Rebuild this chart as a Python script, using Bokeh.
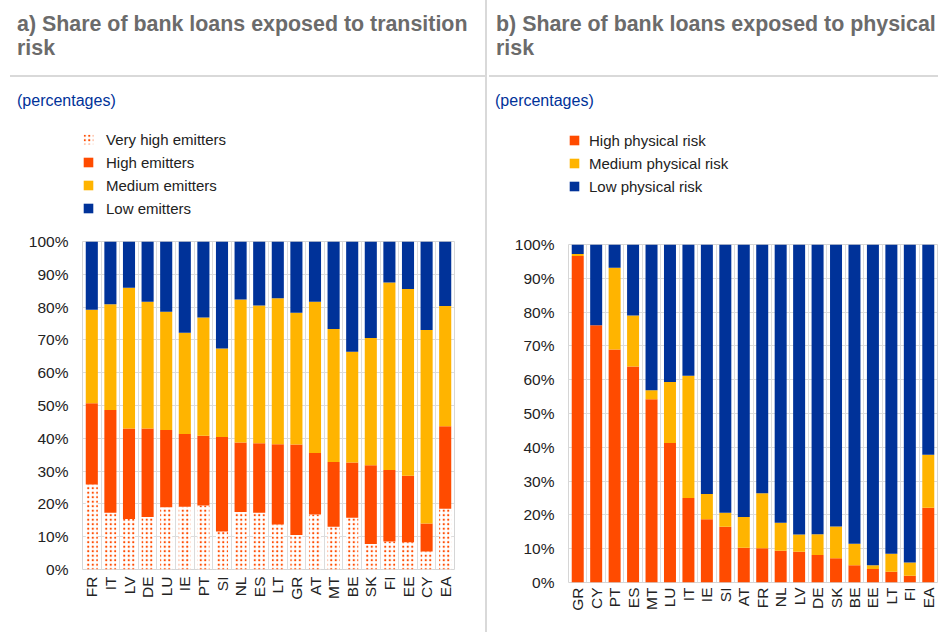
import math
from bokeh.plotting import figure
from bokeh.models import Div, Grid, FixedTicker, PrintfTickFormatter, Range1d, Legend, LegendItem, FactorRange
from bokeh.layouts import row, column
from bokeh.embed import file_html
from bokeh.resources import INLINE

# ---------------- data ----------------
trans_countries = ["FR", "IT", "LV", "DE", "LU", "IE", "PT", "SI", "NL", "ES",
                   "LT", "GR", "AT", "MT", "BE", "SK", "FI", "EE", "CY", "EA"]
very_high_emitters = [25.9, 17.3, 15.4, 16.0, 19.0, 19.1, 19.5, 11.6, 17.5, 17.3,
                      13.7, 10.5, 16.8, 13.0, 15.8, 7.8, 8.5, 8.3, 5.5, 18.5]
high_emitters = [24.8, 31.3, 27.6, 27.0, 23.5, 22.2, 21.3, 28.8, 21.2, 21.2,
                 24.5, 27.6, 18.7, 19.8, 16.8, 24.0, 21.8, 20.3, 8.5, 25.2]
medium_emitters = [28.5, 32.3, 42.9, 38.6, 36.1, 30.9, 36.0, 27.0, 43.6, 42.0,
                   44.5, 40.2, 46.1, 40.5, 33.8, 38.8, 57.2, 56.9, 59.0, 36.6]
low_emitters = [20.8, 19.1, 14.1, 18.4, 21.4, 27.8, 23.2, 32.6, 17.7, 19.5,
                17.3, 21.7, 18.4, 26.7, 33.6, 29.4, 12.5, 14.5, 27.0, 19.7]

phys_countries = ["GR", "CY", "PT", "ES", "MT", "LU", "IT", "IE", "SI", "AT",
                  "FR", "NL", "LV", "DE", "SK", "BE", "EE", "LT", "FI", "EA"]
high_physical = [96.6, 76.1, 68.9, 63.9, 54.2, 41.3, 25.0, 18.7, 16.5, 10.3,
                 10.1, 9.4, 9.1, 8.1, 7.2, 5.1, 4.0, 3.2, 2.0, 22.1]
medium_physical = [0.6, 0.0, 24.2, 15.1, 2.7, 18.0, 36.2, 7.5, 4.1, 9.1,
                   16.3, 8.3, 5.1, 6.2, 9.4, 6.4, 1.1, 5.3, 3.9, 15.7]
low_physical = [2.8, 23.9, 6.9, 21.0, 43.1, 40.7, 38.8, 73.8, 79.4, 80.6,
                73.6, 82.3, 85.8, 85.7, 83.4, 88.5, 94.9, 91.5, 94.1, 62.2]

trans_labels = ["Very high emitters", "High emitters", "Medium emitters", "Low emitters"]
phys_labels = ["High physical risk", "Medium physical risk", "Low physical risk"]
y_ticks = [0, 10, 20, 30, 40, 50, 60, 70, 80, 90, 100]

# ---------------- style ----------------
FONT = "Liberation Sans"
ORANGE = "#FF4B00"
YELLOW = "#FFB400"
BLUE = "#003299"
GRID = "#dcdcdc"
TEXT = "#222222"
HATCH = dict(hatch_color=ORANGE, hatch_scale=4.5, hatch_weight=2.6)

trans_fill = ["white", ORANGE, YELLOW, BLUE]
trans_hatch = ["dot", "blank", "blank", "blank"]
phys_fill = [ORANGE, YELLOW, BLUE]
phys_hatch = ["blank", "blank", "blank"]


def header(title_html, width, pad_left, rule_left, sub_left):
    html = (
        f'<div style="position:relative;width:{width}px;height:115px;'
        f'font-family:\'{FONT}\',Arial,sans-serif;">'
        f'<div style="position:absolute;left:{pad_left}px;top:12px;font-size:21.4px;'
        f'line-height:24px;font-weight:bold;color:#6b6b6b;white-space:nowrap;">{title_html}</div>'
        f'<div style="position:absolute;left:{rule_left}px;right:0px;top:75px;height:2px;'
        f'background:#d9d9d9;"></div>'
        f'<div style="position:absolute;left:{sub_left}px;top:92px;font-size:16px;'
        f'line-height:18px;color:{BLUE};white-space:nowrap;">(percentages)</div>'
        f'</div>'
    )
    return Div(text=html, width=width, height=115, margin=0)


def make_fig(cats, width, height, mbl, mbr, mbt, mbb, standoff_x):
    p = figure(x_range=cats, y_range=Range1d(0, 100), width=width, height=height,
               output_backend="svg", toolbar_location=None, title=None,
               min_border_left=mbl, min_border_right=mbr,
               min_border_top=mbt, min_border_bottom=mbb)
    p.outline_line_color = "#d6d6d6"
    p.outline_line_width = 1
    p.background_fill_color = "white"
    p.border_fill_color = "white"
    p.xgrid.grid_line_color = None
    p.add_layout(Grid(dimension=0, ticker=FixedTicker(ticks=list(range(1, len(cats)))),
                      grid_line_color=GRID, grid_line_width=1))
    p.ygrid.ticker = FixedTicker(ticks=y_ticks)
    p.ygrid.grid_line_color = GRID
    p.yaxis.ticker = FixedTicker(ticks=y_ticks)
    p.yaxis.formatter = PrintfTickFormatter(format="%d%%")
    for ax in (p.xaxis[0], p.yaxis[0]):
        ax.axis_line_color = None
        ax.major_tick_line_color = None
        ax.minor_tick_line_color = None
        ax.major_tick_out = 0
        ax.major_tick_in = 0
        ax.major_label_text_font = FONT
        ax.major_label_text_font_size = "15.5px"
        ax.major_label_text_color = TEXT
    p.yaxis.major_label_standoff = 14
    p.xaxis.major_label_standoff = standoff_x
    p.xaxis.major_label_orientation = math.pi / 2
    return p


def key_fig(cats, source, keys, labels, fills, hatches, width, height, mbl, loc, standoff):
    """A small figure that only carries the legend (the key) of the chart below it."""
    k = figure(width=width, height=height, x_range=FactorRange(factors=cats),
               y_range=Range1d(0, 100), output_backend="svg", toolbar_location=None,
               title=None, min_border_left=mbl, min_border_right=1, min_border_top=0,
               min_border_bottom=0)
    k.axis.visible = False
    k.grid.visible = False
    k.outline_line_color = None
    k.background_fill_color = "white"
    k.border_fill_color = "white"
    rs = k.vbar_stack(keys, x="country", width=0.65, source=source, fill_color=fills,
                      line_color=None, hatch_pattern=hatches, **HATCH)
    for r in rs:
        r.visible = False
    leg = Legend(items=[LegendItem(label=l, renderers=[r]) for l, r in zip(labels, rs)],
                 location=loc, orientation="vertical", padding=0, margin=0,
                 spacing=5, glyph_width=12, glyph_height=12, label_height=18,
                 label_standoff=standoff, label_text_font=FONT, label_text_font_size="15px",
                 label_text_color=TEXT, border_line_color=None, background_fill_alpha=0)
    k.add_layout(leg, "center")
    return k


# ---------------- panel a ----------------
src_a = dict(country=trans_countries, vh=very_high_emitters, hi=high_emitters,
             md=medium_emitters, lo=low_emitters)
pa = make_fig(trans_countries, 485, 401, 82, 31, 12, 61, 7)
pa.vbar_stack(["vh", "hi", "md", "lo"], x="country", width=0.65, source=src_a,
              fill_color=trans_fill, line_color=None, hatch_pattern=trans_hatch, **HATCH)
ka = key_fig(trans_countries, src_a, ["vh", "hi", "md", "lo"], trans_labels, trans_fill,
             trans_hatch, 485, 114, 82, (0, 12), 12)

# ---------------- panel b ----------------
src_b = dict(country=phys_countries, hi=high_physical, md=medium_physical, lo=low_physical)
pb = make_fig(phys_countries, 451, 398, 81, 1, 12, 48, 5)
pb.vbar_stack(["hi", "md", "lo"], x="country", width=0.65, source=src_b,
              fill_color=phys_fill, line_color=None)
kb = key_fig(phys_countries, src_b, ["hi", "md", "lo"], phys_labels, phys_fill, phys_hatch,
             451, 117, 81, (0, 37), 9)

# ---------------- layout ----------------
head_a = header("a) Share of bank loans exposed to transition<br>risk", 485, 17, 10, 17)
head_b = header("b) Share of bank loans exposed to physical<br>risk", 451, 9, 2, 8)
sep = Div(text="", width=2, height=632, margin=0, styles={"background-color": "#d9d9d9"})

layout = row(column(head_a, ka, pa, spacing=0), sep,
             column(head_b, kb, pb, spacing=0), spacing=0)

open("out.html", "w").write(file_html(layout, INLINE))
